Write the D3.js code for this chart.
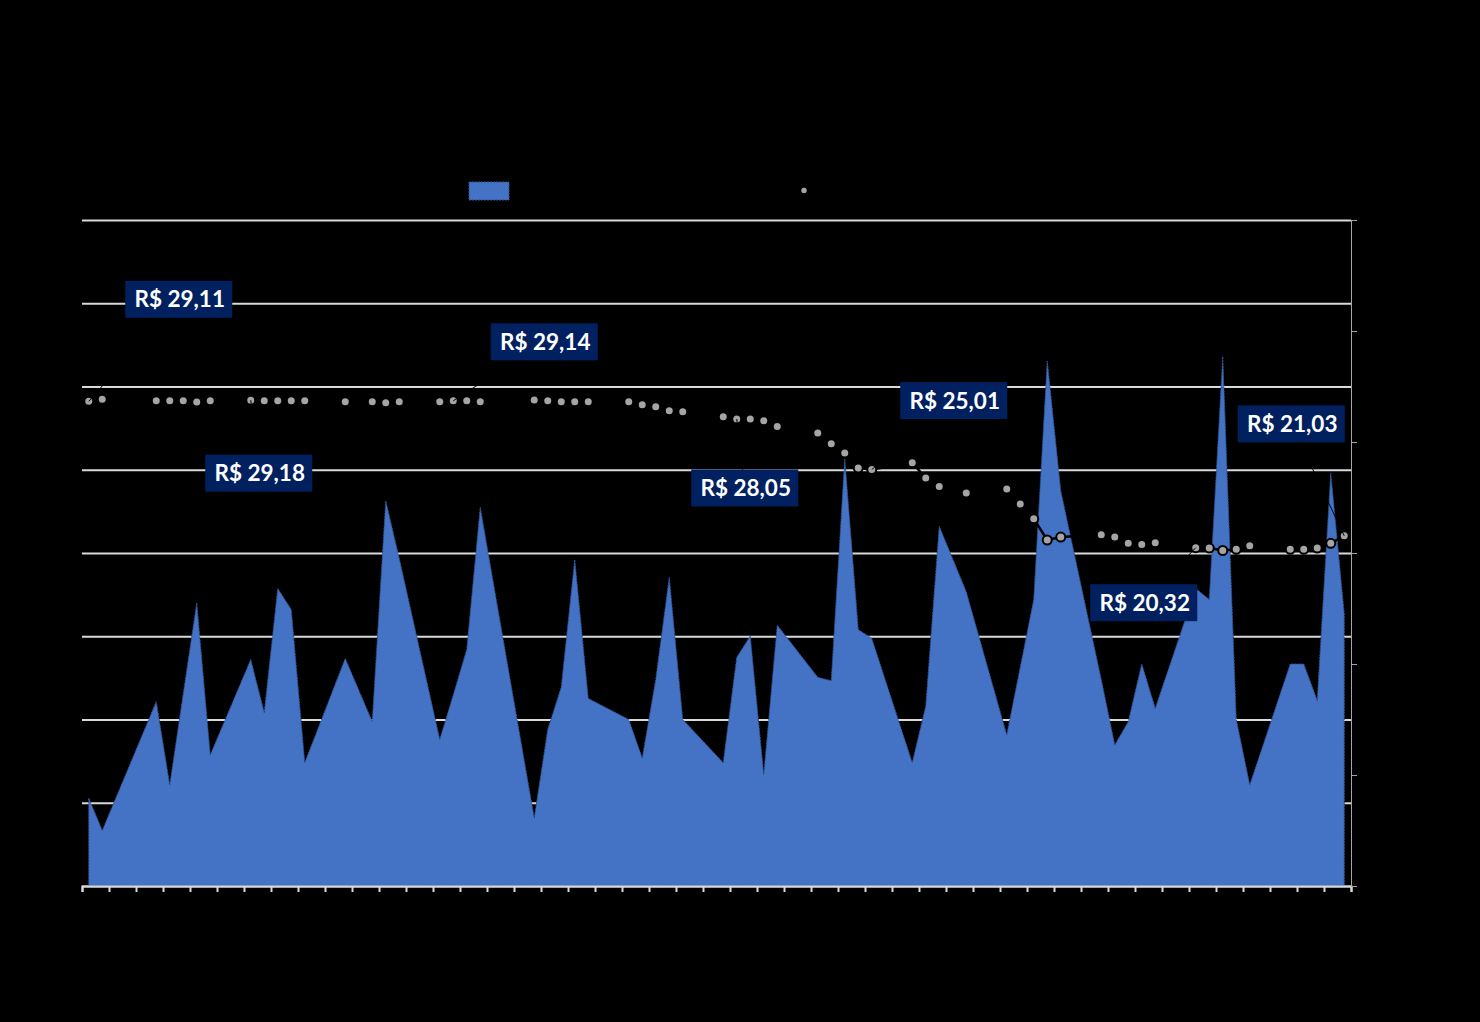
<!DOCTYPE html>
<html>
<head>
<meta charset="utf-8">
<script src="https://cdn.jsdelivr.net/npm/d3@7"></script>
<style>
  html, body { margin: 0; padding: 0; background: #000; }
  svg { display: block; }
</style>
</head>
<body>
<svg id="chart" width="1480" height="1022"></svg>
<script>
// trading days (index of calendar day, weekends / holidays missing)
var days = [0, 1, 5, 6, 7, 8, 9, 12, 13, 14, 15, 16, 19, 21, 22, 23, 26, 27, 28, 29,
    33, 34, 35, 36, 37, 40, 41, 42, 43, 44, 47, 48, 49, 50, 51, 54, 55, 56, 57, 58,
    61, 62, 63, 65, 68, 69, 70, 71, 72, 75, 76, 77, 78, 79, 82, 83, 84, 85, 86,
    89, 90, 91, 92, 93];
// volume (right axis)
var volume = [7.9, 5.0, 16.6, 9.1, 17.3, 25.5, 11.8, 20.4, 15.6, 26.8, 24.9, 11.1, 20.5, 14.8, 34.7, 29.5, 13.2, 17.2, 21.3, 34.1,
    6.1, 14.1, 17.9, 29.4, 16.9, 15.0, 11.5, 18.6, 27.8, 15.0, 11.1, 20.6, 22.5, 10.0, 23.5, 18.8, 18.5, 38.5, 23.1, 22.3,
    11.1, 16.2, 32.4, 26.5, 13.6, 19.7, 25.8, 47.3, 35.6, 18.6, 12.7, 14.8, 20.0, 16.0, 26.8, 25.8, 47.7, 15.0, 9.1,
    20.0, 20.0, 16.7, 37.2, 24.5];
// price R$ (left axis)
var price = [29.11, 29.23, 29.15, 29.15, 29.15, 29.07, 29.15, 29.18, 29.15, 29.15, 29.15, 29.15, 29.09, 29.09, 29.03, 29.09, 29.09, 29.14, 29.15, 29.09,
    29.19, 29.15, 29.09, 29.09, 29.09, 29.09, 28.90, 28.79, 28.55, 28.49, 28.19, 28.05, 28.05, 27.95, 27.60, 27.20, 26.56, 26.00, 25.10, 25.01,
    25.42, 24.50, 24.00, 23.60, 23.84, 22.95, 22.05, 20.78, 20.96, 21.10, 20.96, 20.58, 20.51, 20.62, 20.32, 20.30, 20.15, 20.22, 20.43,
    20.22, 20.22, 20.30, 20.58, 21.03];
// highlighted prices
var labelDays = [0, 12, 27, 48, 58, 82, 93];
var labelOffsets = [[90, -102], [8, 73], [91, -59], [8, 69], [82, -69], [-52, 55], [-53, -112]];

var svg = d3.select("#chart"),
    margin = {
        top: 220,
        right: 129,
        bottom: 136,
        left: 82
    },
    width = +svg.attr("width") - margin.left - margin.right,
    height = +svg.attr("height") - margin.top - margin.bottom;

svg.append("rect").attr("width", 1480).attr("height", 1022).attr("fill", "#000");

var g = svg.append("g")
    .attr("transform", "translate(" + margin.left + "," + margin.top + ")");

var x = d3.scaleLinear().domain([0, 94]).range([0, width]);
var yL = d3.scaleLinear().domain([0, 40]).range([height, 0]);
var yR = d3.scaleLinear().domain([0, 60]).range([height, 0]);

var rows = days.map(function (d, i) {
    return { day: d, vol: volume[i], price: price[i] };
});
function px(d) { return x(d.day + 0.5); }

// gridlines from the left axis
var grid = g.append("g")
    .call(d3.axisLeft(yL).ticks(8).tickSize(-width).tickFormat(""));
grid.select(".domain").remove();
grid.selectAll("line").attr("stroke", "#d9d9d9").attr("stroke-width", 2);

// volume area
var area = d3.area()
    .x(px)
    .y0(height)
    .y1(function (d) { return yR(d.vol); });
g.append("path")
    .datum(rows)
    .attr("d", area)
    .attr("fill", "#4472c4")
    .attr("stroke", "#2f528f")
    .attr("stroke-width", 1)
    .attr("stroke-dasharray", "2,1");

// bottom axis
var xAxis = g.append("g")
    .attr("transform", "translate(0," + height + ")")
    .call(d3.axisBottom(x).tickValues(d3.range(0, 95, 2)).tickSize(6).tickFormat(""));
xAxis.selectAll("line, path").attr("stroke", "#d9d9d9").attr("stroke-width", 2);

// right axis
var rAxis = g.append("g")
    .attr("transform", "translate(" + width + ",0)")
    .call(d3.axisRight(yR).ticks(6).tickSize(6).tickSizeOuter(6).tickFormat(""));
rAxis.selectAll("line, path").attr("stroke", "#a6a6a6").attr("stroke-width", 1);

// price line
var line = d3.line()
    .x(px)
    .y(function (d) { return yL(d.price); });
g.append("path")
    .datum(rows)
    .attr("d", line)
    .attr("fill", "none")
    .attr("stroke", "#000")
    .attr("stroke-width", 2.5);

g.selectAll("circle.pt")
    .data(rows)
    .enter().append("circle")
    .attr("class", "pt")
    .attr("cx", px)
    .attr("cy", function (d) { return yL(d.price); })
    .attr("r", 4.5)
    .attr("fill", "#a5a5a5")
    .attr("stroke", "#000")
    .attr("stroke-width", 2);

// data labels
var labels = labelDays.map(function (d, i) {
    var r = rows[days.indexOf(d)];
    return { x: px(r), y: yL(r.price), dx: labelOffsets[i][0], dy: labelOffsets[i][1], price: r.price };
});
var lab = g.selectAll("g.lab")
    .data(labels)
    .enter().append("g")
    .attr("class", "lab");
lab.append("line")
    .attr("x1", function (d) { return d.x; })
    .attr("y1", function (d) { return d.y; })
    .attr("x2", function (d) { return d.x + d.dx; })
    .attr("y2", function (d) { return d.y + d.dy; })
    .attr("stroke", "#000")
    .attr("stroke-width", 1);
lab.append("rect")
    .attr("x", function (d) { return d.x + d.dx - 53.5; })
    .attr("y", function (d) { return d.y + d.dy - 18.5; })
    .attr("width", 107)
    .attr("height", 37)
    .attr("fill", "#002060");
lab.append("text")
    .attr("x", function (d) { return d.x + d.dx + 1; })
    .attr("y", function (d) { return d.y + d.dy + 8; })
    .attr("text-anchor", "middle")
    .attr("fill", "#fff")
    .style("font-family", "Lato, 'Open Sans', sans-serif")
    .style("font-weight", "bold")
    .style("font-size", "22.5px")
    .text(function (d) { return "R$ " + d.price.toFixed(2).replace(".", ","); });

// legend
svg.append("rect")
    .attr("x", 469).attr("y", 182).attr("width", 40).attr("height", 18)
    .attr("fill", "#4472c4").attr("stroke", "#2f528f").attr("stroke-dasharray", "2,1");
svg.append("line")
    .attr("x1", 780).attr("x2", 828).attr("y1", 190.5).attr("y2", 190.5)
    .attr("stroke", "#000").attr("stroke-width", 2.5);
svg.append("circle")
    .attr("cx", 804).attr("cy", 190.5).attr("r", 3.5)
    .attr("fill", "#a5a5a5").attr("stroke", "#000").attr("stroke-width", 1.5);
</script>
</body>
</html>
